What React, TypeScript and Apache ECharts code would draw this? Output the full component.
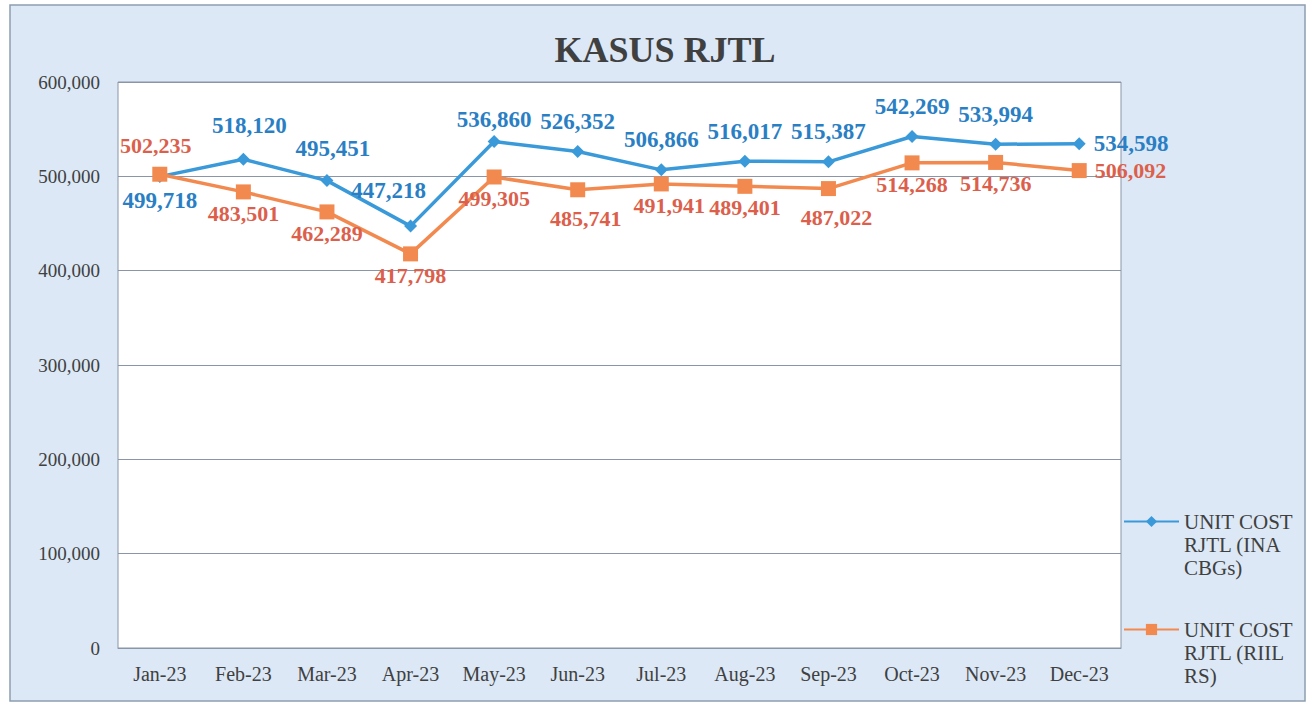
import React, { useEffect, useRef } from "react";
import * as echarts from "echarts";

const categories = ["Jan-23", "Feb-23", "Mar-23", "Apr-23", "May-23", "Jun-23", "Jul-23", "Aug-23", "Sep-23", "Oct-23", "Nov-23", "Dec-23"];
const inaCbgs = [499718, 518120, 495451, 447218, 536860, 526352, 506866, 516017, 515387, 542269, 533994, 534598];
const riilRs = [502235, 483501, 462289, 417798, 499305, 485741, 491941, 489401, 487022, 514268, 514736, 506092];
const seriesNames = ["UNIT COST RJTL (INA CBGs)", "UNIT COST RJTL (RIIL RS)"];
const legendLines: Record<string, string> = {
  "UNIT COST RJTL (INA CBGs)": "\n\nUNIT COST\nRJTL (INA\nCBGs)",
  "UNIT COST RJTL (RIIL RS)": "\n\nUNIT COST\nRJTL (RIIL\nRS)",
};

const FONT = "'Liberation Serif', 'Times New Roman', serif";
const fmt = (v: number) => v.toLocaleString("en-US");

export default function App() {
  const ref = useRef<HTMLDivElement>(null);
  useEffect(() => {
    document.body.style.margin = "0";
    const chart = echarts.init(ref.current!, undefined, { renderer: "svg" });
    const n = categories.length;
    const blueData = inaCbgs.map((v, i) => {
      let label: any = { position: "top", distance: 12 };
      if (i === 0) label = { position: "bottom", distance: 6 };
      if (i === n - 1) label = { position: "right", distance: 8 };
      if (i === 3) label = { position: "top", distance: 12, offset: [-22, -6] };
      if (i === 2) label = { position: "top", distance: 14, offset: [6, 0] };
      if (i === 1) label = { position: "top", distance: 16, offset: [6, 0] };
      if (i === 4) label = { position: "top", distance: 4 };
      return { value: v, label };
    });
    const orangeData = riilRs.map((v, i) => {
      let label: any = { position: "bottom", distance: 3 };
      if (i === 0) label = { position: "top", distance: 10, offset: [-4, 0] };
      if (i === n - 1) label = { position: "right", distance: 8 };
      if (i === 5 || i === 8) label = { position: "bottom", distance: 10, offset: [8, 0] };
      if (i === 6) label = { position: "bottom", distance: 3, offset: [8, 0] };
      return { value: v, label };
    });
    chart.setOption({
      animation: false,
      backgroundColor: "#ffffff",
      graphic: [
        {
          type: "rect",
          z: -10,
          shape: { x: 10, y: 5, width: 1295, height: 696 },
          style: { fill: "#dce8f6", stroke: "#8f9db0", lineWidth: 1.5 },
        },
      ],
      title: {
        text: "KASUS RJTL",
        left: 660,
        textAlign: "center",
        top: 27,
        textStyle: { fontFamily: FONT, fontSize: 36, fontWeight: "bold", color: "#404040" },
      },
      grid: {
        left: 118,
        top: 82,
        width: 1003,
        height: 566,
        show: true,
        backgroundColor: "#ffffff",
        borderColor: "#8a96a8",
        borderWidth: 1,
      },
      legend: {
        orient: "vertical",
        left: 1123,
        top: 464,
        padding: 0,
        itemWidth: 55,
        itemHeight: 14,
        itemGap: -7,
        data: seriesNames,
        formatter: (name: string) => legendLines[name] || name,
        textStyle: { fontFamily: FONT, fontSize: 21, color: "#404040", lineHeight: 23 },
      },
      xAxis: {
        type: "category",
        data: categories,
        boundaryGap: true,
        axisLine: { lineStyle: { color: "#8a96a8" } },
        axisTick: { show: false },
        axisLabel: { fontFamily: FONT, fontSize: 20, color: "#404040", margin: 16, interval: 0 },
      },
      yAxis: {
        type: "value",
        min: 0,
        max: 600000,
        interval: 100000,
        axisLine: { show: false },
        axisTick: { show: false },
        splitLine: { lineStyle: { color: "#8a96a8", width: 1 } },
        axisLabel: { fontFamily: FONT, fontSize: 19, color: "#404040", margin: 18, formatter: (v: number) => fmt(v) },
      },
      series: [
        {
          name: seriesNames[0],
          type: "line",
          data: blueData,
          symbol: "diamond",
          symbolSize: 13,
          itemStyle: { color: "#3a9ad9" },
          lineStyle: { color: "#3a9ad9", width: 3.5 },
          label: {
            show: true,
            fontFamily: FONT,
            fontSize: 23,
            fontWeight: "bold",
            color: "#2a7fc4",
            formatter: (p: any) => fmt(p.value),
          },
          z: 3,
        },
        {
          name: seriesNames[1],
          type: "line",
          data: orangeData,
          symbol: "rect",
          symbolSize: 15,
          itemStyle: { color: "#f28a50" },
          lineStyle: { color: "#f28a50", width: 3.5 },
          label: {
            show: true,
            fontFamily: FONT,
            fontSize: 22,
            fontWeight: "bold",
            color: "#dc5f4c",
            formatter: (p: any) => fmt(p.value),
          },
          z: 4,
        },
      ],
    });
    return () => chart.dispose();
  }, []);
  return <div ref={ref} style={{ width: 1314, height: 705 }} />;
}
